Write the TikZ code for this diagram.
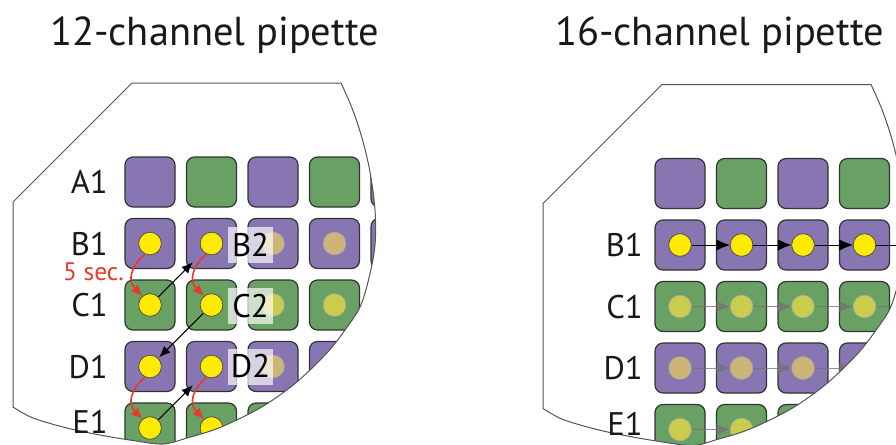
\documentclass[tikz,border=0pt]{standalone}
\usepackage{fontspec}
\setmainfont{PT Sans}
\usetikzlibrary{arrows.meta,calc}

\definecolor{plum}{HTML}{8876B2}
\definecolor{leaf}{HTML}{68A163}
\definecolor{sun}{HTML}{FFEB00}
\definecolor{tanwell}{HTML}{CDB577}
\definecolor{limewell}{HTML}{C9CD4B}
\definecolor{timer}{HTML}{E8392A}
\definecolor{rim}{HTML}{555555}

\tikzset{
  title/.style={font=\fontsize{30.3}{36}\selectfont, text=black!90, inner sep=0pt},
  cell/.style={draw=black!80, line width=0.9pt, rounded corners=6pt,
    minimum width=37.5pt, minimum height=37.5pt, inner sep=0pt},
  well/.style={circle, draw=black!70, line width=0.55pt, minimum size=17pt, inner sep=0pt},
  idle/.style={well, draw=black!35},
  rowlabel/.style={anchor=base east, font=\fontsize{24.5}{28}\selectfont, text=black!90, inner sep=0pt},
  tag/.style={fill=white, fill opacity=0.68, text opacity=1, minimum width=33.75pt,
    minimum height=27pt, inner sep=0pt, font=\fontsize{24.5}{28}\selectfont},
  move/.style={-{Latex[length=8.5pt,width=7pt]}, line width=0.8pt, black},
  slide/.style={-{Latex[length=10pt,width=8.5pt]}, line width=0.75pt, black},
  faint/.style={slide, draw=black!55, fill=black!55, opacity=0.75},
  dwell/.style={-{Latex[length=8.5pt,width=7.5pt]}, line width=1.2pt, timer},
}

% outline of the magnified plate corner (pixel-like units, y downwards)
\newcommand\plateoutline{(13,407) -- (13,202) -- (132,83) -- (341,83)
  -- plot[smooth, tension=0.55] coordinates {(341,83) (352,108) (362,138) (370,172)
     (375,210) (375,245) (369,278) (360,307) (345,330) (330,349.5) (310,370)
     (290,387.5) (260,408) (220,427.5) (187,438) (163,444) (133,440.5) (100,435)
     (67,428) (33,418) (13,407)} -- cycle}

\begin{document}
\begin{tikzpicture}[x=0.75pt, y=-0.75pt]
\useasboundingbox (0,0) rectangle (896,444);
\fill[white] (0,0) rectangle (896,444);

\node[title, anchor=base] (t12) at (214.5,45) {12-channel pipette};
\node[title, anchor=base] (t16) at (719.5,45) {16-channel pipette};

% ---------------- 12-channel: two wells at a time, row by row
\begin{scope}
  \clip \plateoutline;
  \foreach \c/\col in {1/plum,2/leaf,3/plum,4/leaf,5/plum}
    \node[cell, fill=\col] (L-A-\c) at ({150+61.5*(\c-1)},182) {};
  \foreach \r/\col [count=\i] in {B/plum,C/leaf,D/plum,E/leaf}
    \foreach \c in {1,...,5}
      \node[cell, fill=\col] (L-\r-\c) at ({150+61.5*(\c-1)},{182+61.5*\i}) {};
  \foreach \r in {B,C,D,E}
    \foreach \c in {1,2}
      \node[well, fill=sun] (Lw-\r-\c) at (L-\r-\c) {};
  \foreach \r/\col in {B/tanwell,C/limewell,D/tanwell,E/limewell}
    \foreach \c in {3,4}
      \node[idle, fill=\col] (Lw-\r-\c) at (L-\r-\c) {};
  \node[tag] (tagB) at (250.5,245) {B2};
  \node[tag] (tagC) at (250.5,306) {C2};
  \node[tag] (tagD) at (250.5,366.5) {D2};
  % waiting steps
  \draw[dwell] (Lw-B-1.245) .. controls +(-15,13) and +(-15,-15) .. (Lw-C-1.130);
  \draw[dwell] (Lw-B-2.245) .. controls +(-15,13) and +(-15,-15) .. (Lw-C-2.130);
  \draw[dwell] (Lw-D-1.245) .. controls +(-15,13) and +(-15,-15) .. (Lw-E-1.130);
  \draw[dwell] (Lw-D-2.245) .. controls +(-15,13) and +(-15,-15) .. (Lw-E-2.130);
  % moves of the pipette
  \draw[move, shorten >=11pt] (Lw-C-1) -- (Lw-B-2);
  \draw[move, shorten >=1pt] (Lw-C-2) -- (Lw-D-1);
  \draw[move, shorten >=11pt] (Lw-E-1) -- (Lw-D-2);
\end{scope}
\draw[rim, line width=0.75pt] \plateoutline;

\node[rowlabel] (lA) at (108,193.5) {A1};
\node[rowlabel] (lB) at (108,255) {B1};
\node[rowlabel] (lC) at (108,316.5) {C1};
\node[rowlabel] (lD) at (108,378) {D1};
\node[rowlabel] (lE) at (108,433) {E1};
\node[anchor=base east, inner sep=0pt, text=timer, font=\fontsize{19}{22}\selectfont]
  (wait) at (124,280) {5 sec.};

% ---------------- 16-channel: one row, well after well
\begin{scope}[shift={(530,1.5)}]
  \clip \plateoutline;
  \foreach \c/\col in {1/plum,2/leaf,3/plum,4/leaf}
    \node[cell, fill=\col] (R-A-\c) at ({150+61.5*(\c-1)},182) {};
  \foreach \r/\col [count=\i] in {B/plum,C/leaf,D/plum,E/leaf}
    \foreach \c in {1,...,4}
      \node[cell, fill=\col] (R-\r-\c) at ({150+61.5*(\c-1)},{182+61.5*\i}) {};
  \foreach \c in {1,...,4}
    \node[well, fill=sun] (Rw-B-\c) at (R-B-\c) {};
  \foreach \r/\col in {C/limewell,D/tanwell,E/limewell}
    \foreach \c in {1,...,4}
      \node[idle, fill=\col] (Rw-\r-\c) at (R-\r-\c) {};
  \foreach \r [count=\i] in {B,C,D,E}
    \coordinate (R-\r-end) at (396,{182+61.5*\i});
  \foreach \a/\b in {1/2,2/3,3/4}
    \draw[slide] (Rw-B-\a) -- (Rw-B-\b);
  \draw[slide] (Rw-B-4) -- (R-B-end);
  \foreach \r in {C,D,E} {
    \foreach \a/\b in {1/2,2/3,3/4}
      \draw[faint] (Rw-\r-\a) -- (Rw-\r-\b);
    \draw[faint] (Rw-\r-4) -- (R-\r-end);
  }
\end{scope}
\draw[rim, line width=0.75pt, shift={(530,1.5)}] \plateoutline;

\node[rowlabel] (rB) at (643,256.5) {B1};
\node[rowlabel] (rC) at (643,318) {C1};
\node[rowlabel] (rD) at (643,379.5) {D1};
\node[rowlabel] (rE) at (643,435) {E1};
\end{tikzpicture}
\end{document}
